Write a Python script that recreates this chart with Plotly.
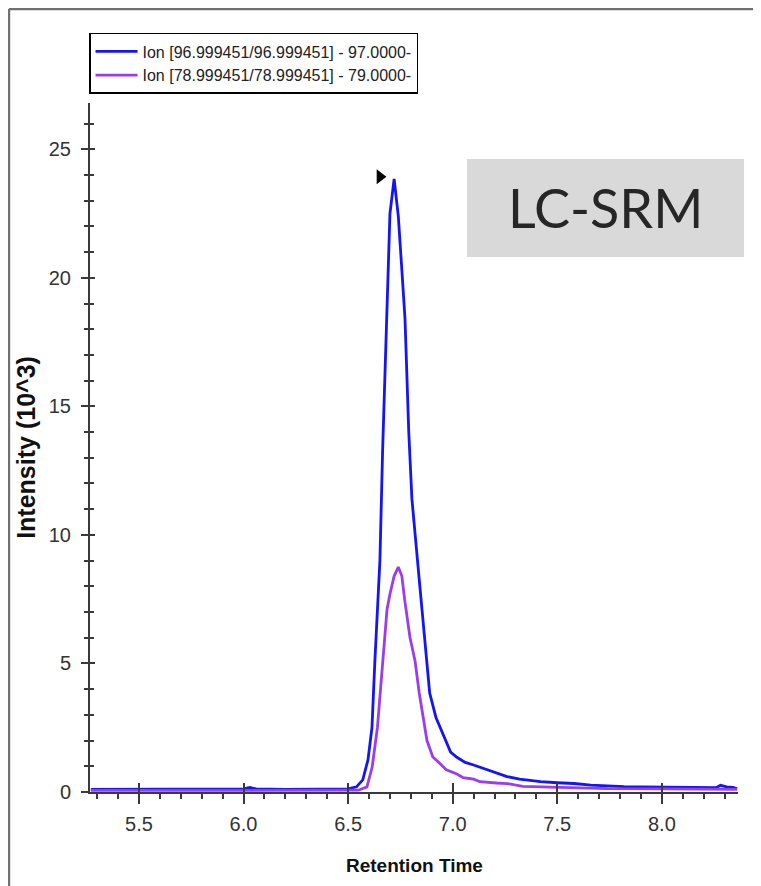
import plotly.graph_objects as go

# ---------------- data ----------------
series_names = ["Ion [96.999451/96.999451] - 97.0000-",
                "Ion [78.999451/78.999451] - 79.0000-"]

rt_97 = [5.27, 5.40, 5.60, 5.80, 6.00, 6.03, 6.06, 6.20, 6.40, 6.50, 6.54, 6.57,
         6.595, 6.614, 6.628, 6.643, 6.652, 6.665, 6.686, 6.70, 6.72, 6.73, 6.74,
         6.757, 6.772, 6.79, 6.805, 6.843, 6.867, 6.89, 6.92, 6.94, 6.96, 6.99,
         7.02, 7.06, 7.10, 7.15, 7.21, 7.26, 7.32, 7.42, 7.50, 7.58, 7.66, 7.74,
         7.82, 7.90, 8.05, 8.21, 8.26, 8.28, 8.31, 8.34, 8.36]
int_97 = [0.10, 0.10, 0.10, 0.10, 0.12, 0.18, 0.12, 0.10, 0.10, 0.12, 0.20, 0.47,
          1.25, 2.5, 5.1, 7.7, 9.0, 13.3, 18.4, 22.5, 23.85, 23.0, 22.4,
          20.3, 18.4, 14.0, 11.4, 8.0, 5.8, 3.85, 2.9, 2.5, 2.1, 1.55,
          1.35, 1.15, 1.05, 0.90, 0.74, 0.60, 0.50, 0.40, 0.36, 0.33, 0.27, 0.23,
          0.21, 0.20, 0.19, 0.19, 0.17, 0.26, 0.20, 0.18, 0.12]

rt_79 = [5.27, 5.60, 6.00, 6.40, 6.55, 6.59, 6.615, 6.64, 6.66, 6.686, 6.70,
         6.72, 6.74, 6.757, 6.77, 6.796, 6.82, 6.84, 6.877, 6.905, 6.94, 6.97,
         7.02, 7.05, 7.10, 7.13, 7.21, 7.26, 7.335, 7.42, 7.58, 7.74, 8.00, 8.36]
int_79 = [0.06, 0.06, 0.06, 0.06, 0.07, 0.20, 0.97, 2.5, 4.5, 7.1, 7.7,
          8.4, 8.75, 8.4, 7.5, 6.0, 5.1, 3.85, 2.0, 1.36, 1.10, 0.86,
          0.70, 0.56, 0.50, 0.40, 0.35, 0.33, 0.22, 0.20, 0.17, 0.13, 0.12, 0.10]

x_tickvals = [5.5, 6.0, 6.5, 7.0, 7.5, 8.0]
x_ticktext = ["5.5", "6.0", "6.5", "7.0", "7.5", "8.0"]
y_tickvals = [0, 5, 10, 15, 20, 25]
y_ticktext = ["0", "5", "10", "15", "20", "25"]

x_title = "Retention Time"
y_title = "Intensity (10^3)"
box_label = "LC-SRM"

# ---------------- style ----------------
ARIAL = "Liberation Sans, Arial, sans-serif"
AX = "#3a3a3a"
BLUE = "#1414f5"
PURPLE = "#9a3cf0"
X_RANGE = [5.266, 8.364]
Y_RANGE = [0, 26.8]

fig = go.Figure()
fig.add_trace(go.Scatter(x=rt_97, y=int_97, mode="lines", name=series_names[0],
                         line=dict(color=BLUE, width=2.8)))
fig.add_trace(go.Scatter(x=rt_79, y=int_79, mode="lines", name=series_names[1],
                         line=dict(color=PURPLE, width=2.8)))

# apex marker (black triangle just left of the apex of the 97 trace)
apex_i = int_97.index(max(int_97))
fig.add_trace(go.Scatter(x=[rt_97[apex_i] - 0.068], y=[int_97[apex_i] + 0.08],
                         mode="markers", showlegend=False, hoverinfo="skip",
                         marker=dict(symbol="triangle-right", size=13, color="black")))

# dummy trace for overlay axes (inside tick marks)
fig.add_trace(go.Scatter(x=[None], y=[None], xaxis="x2", yaxis="y2",
                         showlegend=False, hoverinfo="skip"))

# page body has an 8px margin, so the figure is sized to the visible area
fig.update_layout(
    width=753, height=878,
    margin=dict(l=82, r=23, t=95, b=94, autoexpand=False),
    paper_bgcolor="white", plot_bgcolor="white",
    showlegend=True,
    legend=dict(x=-0.0015, y=1.1016, xanchor="left", yanchor="top",
                bordercolor="black", borderwidth=1.5, bgcolor="white",
                font=dict(family=ARIAL, size=16, color="#222"),
                itemwidth=42, tracegroupgap=0),
    xaxis=dict(range=X_RANGE, showgrid=False, zeroline=False, automargin=False,
               showline=True, linecolor=AX, linewidth=2,
               tickmode="array", tickvals=x_tickvals, ticktext=x_ticktext,
               ticks="outside", ticklen=10, tickwidth=2, tickcolor=AX,
               ticklabelstandoff=3,
               minor=dict(dtick=0.1, tick0=0, ticks="outside", ticklen=5,
                          tickwidth=1.5, tickcolor=AX),
               tickfont=dict(family=ARIAL, size=20, color="#333")),
    yaxis=dict(range=Y_RANGE, showgrid=False, zeroline=False, automargin=False,
               showline=True, linecolor=AX, linewidth=2,
               tickmode="array", tickvals=y_tickvals, ticktext=y_ticktext,
               ticks="outside", ticklen=7, tickwidth=2, tickcolor=AX,
               ticklabelstandoff=6,
               minor=dict(dtick=1, tick0=0, ticks="outside", ticklen=4,
                          tickwidth=1.5, tickcolor=AX),
               tickfont=dict(family=ARIAL, size=20, color="#333"),
               title=dict(text=y_title, standoff=6,
                          font=dict(family=ARIAL, size=25, color="#111", weight="bold"))),
    xaxis2=dict(range=X_RANGE, overlaying="x", anchor="y", side="bottom",
                showgrid=False, zeroline=False, showline=False, automargin=False,
                tickmode="array", tickvals=x_tickvals, showticklabels=False,
                ticks="inside", ticklen=9, tickwidth=2, tickcolor=AX),
    yaxis2=dict(range=Y_RANGE, overlaying="y", anchor="x", side="left",
                showgrid=False, zeroline=False, showline=False, automargin=False,
                tickmode="array", tickvals=y_tickvals, showticklabels=False,
                ticks="inside", ticklen=5, tickwidth=2, tickcolor=AX,
                minor=dict(dtick=1, tick0=0, ticks="inside", ticklen=4,
                           tickwidth=1.5, tickcolor=AX)),
)

# x-axis title placed as a paper annotation
fig.add_annotation(xref="paper", yref="paper", x=0.5, y=-0.106,
                   xanchor="center", yanchor="middle", showarrow=False,
                   text=x_title,
                   font=dict(family=ARIAL, size=19, color="#111", weight="bold"))

# LC-SRM grey label box
fig.add_shape(type="rect", xref="paper", yref="paper",
              x0=0.5818, x1=1.0093, y0=0.7765, y1=0.9187,
              fillcolor="#d9d9d9", line=dict(width=0), layer="below")
fig.add_annotation(xref="paper", yref="paper", x=0.7955, y=0.849,
                   xanchor="center", yanchor="middle",
                   text=box_label, showarrow=False,
                   font=dict(family="Lato, Open Sans, sans-serif", size=54, color="#262626"))

# outer frame (left and top edges)
fig.add_shape(type="line", xref="paper", yref="paper",
              x0=-0.1251, x1=-0.1251, y0=-0.1364, y1=1.1364,
              line=dict(color="#707070", width=2.5))
fig.add_shape(type="line", xref="paper", yref="paper",
              x0=-0.1251, x1=1.0355, y0=1.1364, y1=1.1364,
              line=dict(color="#707070", width=2.5))

fig.write_html("out.html")
